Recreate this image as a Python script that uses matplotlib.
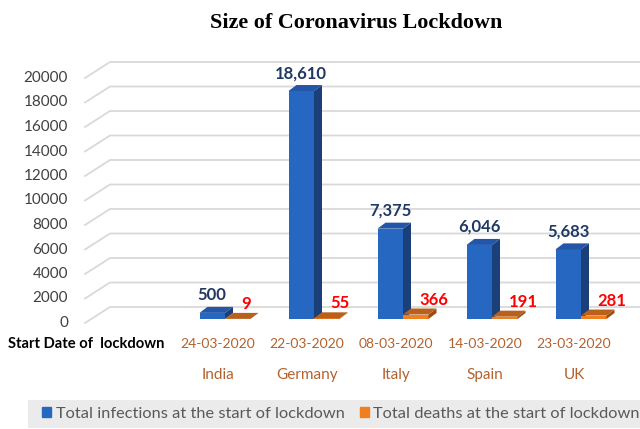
import matplotlib.pyplot as plt
from matplotlib.patches import Polygon, Rectangle, Patch
import numpy as np

plt.rcParams['font.family'] = ['Lato', 'DejaVu Sans']

# lockdown data
countries = ['India', 'Germany', 'Italy', 'Spain', 'UK']
start_dates = ['24-03-2020', '22-03-2020', '08-03-2020', '14-03-2020', '23-03-2020']
infections = [500, 18610, 7375, 6046, 5683]
deaths = [9, 55, 366, 191, 281]
y_ticks = list(range(0, 20001, 2000))
series_names = ['Total infections at the start of lockdown',
                'Total deaths at the start of lockdown']

BLUE = ('#2667c2', '#1b3f78', '#2356a8')     # front, side, top
ORANGE = ('#f07f22', '#9c4a12', '#b8601c')
LABEL_BROWN = '#b5612d'

W, H = 640, 429
fig = plt.figure(figsize=(W / 100, H / 100), dpi=100)
ax = fig.add_axes([85 / W, (H - 319) / H, 555 / W, 245 / H])
ax.set_xlim((85 - 218) / 89, (640 - 218) / 89)
ax.set_ylim(0, 20000)
ax.axis('off')

# size of one pixel in data units
ux = 1 / 89
uy = 20000 / 245
xmin, xmax = ax.get_xlim()

# back wall gridlines with the slanted front edge
for v in y_ticks:
    ax.plot([xmin, xmin + 25 * ux, xmax], [v - 4 * uy, v + 12 * uy, v + 12 * uy],
            color='#d9d9d9', lw=1.3, clip_on=False, zorder=0)
    ax.text(-17 / 555, v - 4 * uy, str(v), transform=ax.get_yaxis_transform(),
            ha='right', va='center', fontsize=11, color='#404040')


def bar3d(xc, val, w, colors, z):
    front, side, top = colors
    ax.bar(xc, val, w, color=front, linewidth=0, zorder=z)
    left, right = xc - w / 2, xc + w / 2
    dx, dy = 8 * ux, 6 * uy
    ax.add_patch(Polygon([(right, 0), (right + dx, dy), (right + dx, val + dy), (right, val)],
                         closed=True, fc=side, ec='none', zorder=z))
    ax.add_patch(Polygon([(left, val), (left + dx, val + dy), (right + dx, val + dy), (right, val)],
                         closed=True, fc=top, ec='none', zorder=z))


x = np.arange(len(countries))
bw = 25.5 * ux
blue_x = x - 5.75 * ux
orange_x = x + 19.75 * ux

for i in range(len(countries)):
    bar3d(blue_x[i], infections[i], bw, BLUE, 3)
    bar3d(orange_x[i], deaths[i], bw, ORANGE, 4)
    ax.annotate(f'{infections[i]:,}', (blue_x[i], infections[i]), xytext=(0, 13),
                textcoords='offset pixels', ha='center', va='baseline',
                fontsize=12, fontweight='bold', color='#1f3864', zorder=6)
    ax.annotate(f'{deaths[i]:,}', (orange_x[i], deaths[i]), xytext=(4, 10),
                textcoords='offset pixels', ha='left', va='baseline',
                fontsize=12, fontweight='bold', color='#ff0000', zorder=6)

# two-level category axis
for i in range(len(countries)):
    ax.text(x[i], -25 / 245, start_dates[i], transform=ax.get_xaxis_transform(),
            ha='center', va='center', fontsize=10, color=LABEL_BROWN)
    ax.text(x[i], -56 / 245, countries[i], transform=ax.get_xaxis_transform(),
            ha='center', va='center', fontsize=11, color=LABEL_BROWN)
fig.text(164 / W, (H - 344) / H, 'Start Date of  lockdown', ha='right', va='center',
         fontsize=10.6, fontweight='bold', color='black')

fig.text(356 / W, 1 - 23 / H, 'Size of Coronavirus Lockdown', ha='center', va='center',
         family='Liberation Serif', fontweight='bold', fontsize=15.9)

# legend strip
fig.add_artist(Rectangle((28 / W, 1 / H), (W - 28) / W, 28 / H, transform=fig.transFigure,
                         fc='#ebebeb', ec='none', zorder=0))
handles = [Patch(color=BLUE[0]), Patch(color=ORANGE[0])]
fig.legend(handles, series_names, loc='center left', bbox_to_anchor=(42 / W, (H - 414) / H),
           ncol=2, frameon=False, handlelength=0.55, handleheight=0.55, handletextpad=0.3,
           columnspacing=0.9, fontsize=11.8, labelcolor='#595959', borderpad=0, borderaxespad=0)

fig.savefig('out.png', dpi=100)
